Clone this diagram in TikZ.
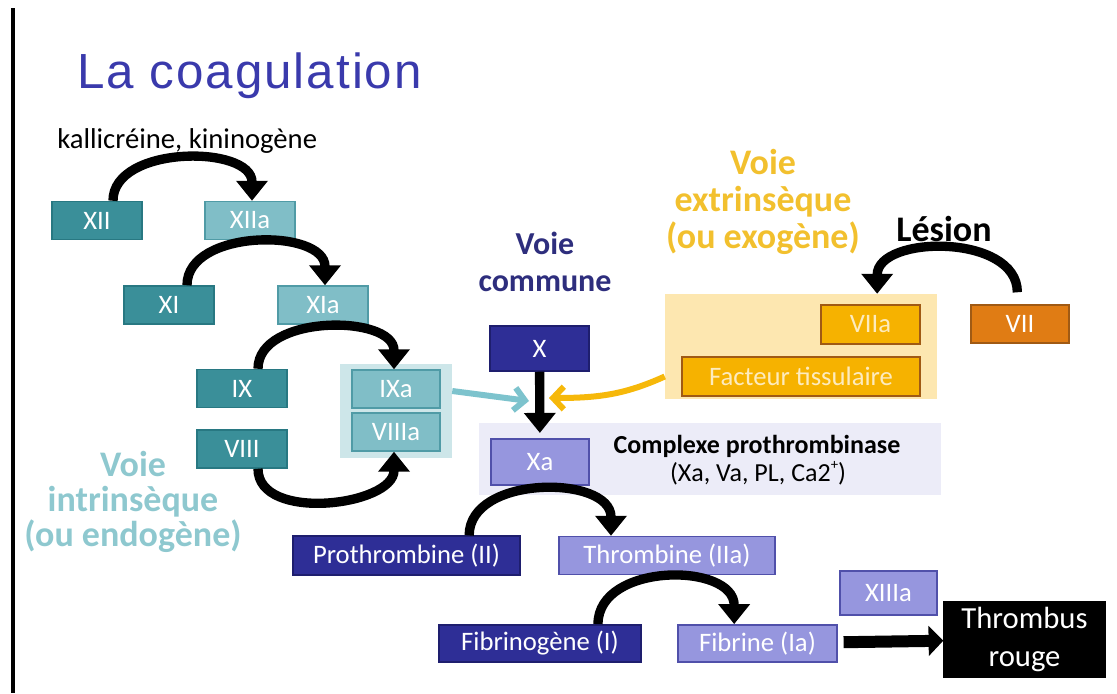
\documentclass[tikz,border=0pt]{standalone}
\usepackage{fontspec}
\setmainfont{Carlito}
\newfontfamily\titlefont[LetterSpace=4]{Liberation Sans}
\usepackage{tikz}
\usetikzlibrary{arrows.meta}

\definecolor{tealdk}{RGB}{58,143,153}
\definecolor{tealdkline}{RGB}{40,120,130}
\definecolor{teallt}{RGB}{128,190,199}
\definecolor{tealltline}{RGB}{80,155,166}
\definecolor{tealbg}{RGB}{205,230,233}
\definecolor{tealtext}{RGB}{142,200,207}
\definecolor{tealarrow}{RGB}{125,195,205}
\definecolor{bluedk}{RGB}{46,46,150}
\definecolor{bluedkline}{RGB}{30,30,110}
\definecolor{bluelt}{RGB}{150,150,222}
\definecolor{blueltline}{RGB}{80,80,170}
\definecolor{bluebg}{RGB}{236,236,248}
\definecolor{bluetext}{RGB}{46,46,125}
\definecolor{titleblue}{RGB}{58,58,172}
\definecolor{orangebg}{RGB}{253,231,176}
\definecolor{orangebox}{RGB}{246,178,0}
\definecolor{orangeline}{RGB}{160,90,20}
\definecolor{orangedk}{RGB}{224,124,20}
\definecolor{orangetext}{RGB}{242,192,46}
\definecolor{orangearrow}{RGB}{246,184,10}
\definecolor{paleyellow}{RGB}{253,235,190}

\begin{document}
\begin{tikzpicture}[
	    x=0.75pt, y=-0.75pt,
	    every node/.style={inner sep=0pt},
	    box/.style={rectangle, line width=1.1pt, text=white, font=\fontsize{20}{24}\selectfont, minimum width=67.5pt, minimum height=28.5pt},
	    tealdkbox/.style={box, fill=tealdk, draw=tealdkline},
	    tealltbox/.style={box, fill=teallt, draw=tealltline},
	    bluedkbox/.style={box, fill=bluedk, draw=bluedkline},
	    blueltbox/.style={box, fill=bluelt, draw=blueltline},
	    orangebox/.style={box, fill=orangebox, draw=orangeline, text=paleyellow},
	    panel/.style={rectangle, draw=none},
	    voie/.style={font=\bfseries\fontsize{27}{26}\selectfont, align=center},
	    flow/.style={-{Triangle[width=23pt,length=15pt]}, line width=7pt},
	    bigflow/.style={-{Triangle[width=22pt,length=11pt]}, line width=9pt},
	    feed/.style={-{Straight Barb[width=17pt,length=8pt]}, line width=4.5pt}
	]
		\useasboundingbox (0,0) rectangle (1117,693);
		\draw[line width=3pt] (13,8) -- (13,693);

		\node[anchor=base west, text=titleblue, font=\titlefont\fontsize{37}{40}\selectfont] (title) at (77,88) {La coagulation};
		\node[anchor=base west, font=\fontsize{21.5}{24}\selectfont] (kalli) at (57,148) {kallicréine, kininogène};

		\node[panel, fill=tealbg, minimum width=84pt, minimum height=70.5pt] (grp) at (396,411) {};
		\node[panel, fill=bluebg, minimum width=346.5pt, minimum height=54pt] (cplx) at (710,459) {};
		\node[panel, fill=orangebg, minimum width=204pt, minimum height=78.75pt] (extbg) at (801,346.5) {};

		\node[tealdkbox] (xii) at (97,220.5) {XII};
		\node[tealltbox] (xiia) at (250,220.5) {XIIa};
		\node[tealdkbox] (xi) at (169,305) {XI};
		\node[tealltbox] (xia) at (323,305) {XIa};
		\node[tealdkbox] (ix) at (242,388.5) {IX};
		\node[tealdkbox] (viii) at (242,449) {VIII};
		\node[tealltbox, minimum width=66pt] (ixa) at (396,389) {IXa};
		\node[tealltbox, minimum width=66pt] (viiia) at (396,432) {VIIIa};

		\node[bluedkbox, minimum width=74pt, minimum height=33.75pt] (x) at (539.5,348.5) {X};
		\node[blueltbox, minimum width=73.5pt, minimum height=34.5pt] (xa) at (540,462) {Xa};
		\node[anchor=base, font=\bfseries\fontsize{19.5}{22}\selectfont] (cplxname) at (757,453) {Complexe prothrombinase};
		\node[anchor=base, font=\fontsize{19.5}{22}\selectfont] (cplxlist) at (758,481) {(Xa, Va, PL, Ca2\raisebox{0.9ex}{\fontsize{11}{11}\selectfont+})};

		\node[orangebox, minimum width=74pt, minimum height=29pt] (viia) at (870.5,324.5) {VIIa};
		\node[orangebox, minimum width=178.5pt, minimum height=29pt] (ft) at (801,376.5) {Facteur tissulaire};
		\node[box, fill=orangedk, draw=orangeline, minimum width=73.5pt] (vii) at (1020,324) {VII};

		\node[bluedkbox, minimum width=170pt, minimum height=29pt] (proth) at (406.5,555.5) {Prothrombine (II)};
		\node[blueltbox, minimum width=162pt] (thromb) at (667,555.5) {Thrombine (IIa)};
		\node[bluedkbox, minimum width=151.5pt, minimum height=28pt] (fibrino) at (540,643.5) {Fibrinogène (I)};
		\node[blueltbox, minimum width=119pt, minimum height=28pt] (fibrine) at (757.5,643.5) {Fibrine (Ia)};
		\node[blueltbox, minimum width=72.75pt, minimum height=33pt] (xiiia) at (888.5,593) {XIIIa};
		\node[box, fill=black, draw=black, align=center, minimum width=120.75pt, minimum height=56pt, font=\fontsize{23}{28}\selectfont] (thrombus) at (1024.5,639.5) {Thrombus\\rouge};

		\node[voie, text=tealtext] (intr) at (133,502) {Voie\\intrinsèque\\(ou endogène)};
		\node[voie, text=bluetext, font=\bfseries\fontsize{24}{28}\selectfont] (comm) at (545,262) {Voie\\commune};
		\node[voie, text=orangetext, font=\bfseries\fontsize{27}{28}\selectfont] (extr) at (763,202) {Voie\\extrinsèque\\(ou exogène)};
		\node[voie] (lesion) at (944,229) {Lésion};

		\coordinate (tealtip) at (529,401);
		\coordinate (oratip) at (549,398);

		\draw[flow] ([xshift=12pt]xii.north) .. controls +(0,-56) and +(0,-56) .. ([xshift=1.5pt]xiia.north);
		\draw[flow] ([xshift=13.5pt]xi.north) .. controls +(0,-57) and +(0,-57) .. ([xshift=1.5pt]xia.north);
		\draw[flow] ([xshift=12pt]ix.north) .. controls +(0,-55) and +(0,-55) .. ([xshift=-1.5pt]ixa.north);
		\draw[flow] ([xshift=12pt]viii.south) .. controls +(0,54) and +(0,54) .. ([xshift=-1.5pt]viiia.south);
		\draw[flow] ([xshift=-2pt,yshift=9pt]vii.north) .. controls +(0,-59) and +(0,-59) .. ([xshift=5pt,yshift=8pt]viia.north);
		\draw[flow] ([xshift=47pt]proth.north) .. controls +(0,-61) and +(0,-61) .. ([xshift=-42pt]thromb.north);
		\draw[flow] ([xshift=43.5pt]fibrino.north) .. controls +(0,-62) and +(0,-62) .. ([xshift=-17.5pt]fibrine.north);

		\draw[flow, shorten >=4pt] (x) -- (xa);
		\draw[feed, tealarrow] ([yshift=15pt]grp.east) -- (tealtip);
		\draw[feed, orangearrow] (extbg.west |- ft) .. controls +(-40,18) and +(50,0) .. (oratip);
		\draw[bigflow, shorten <=4.5pt] (fibrine) -- (thrombus);
	\end{tikzpicture}
\end{document}
